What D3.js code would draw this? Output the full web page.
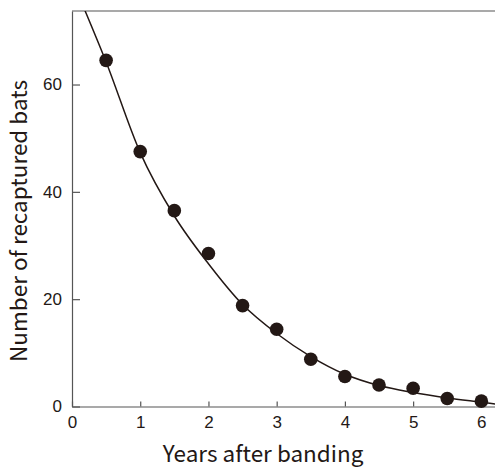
<!DOCTYPE html>
<html>
<head>
<meta charset="utf-8">
<script src="https://cdn.jsdelivr.net/npm/d3@7"></script>
<style>
  html, body { margin: 0; padding: 0; background: #fff; }
  #chart { width: 495px; height: 468px; }
  .tick text { font-family: "Liberation Sans", Arial, sans-serif; font-size: 17px; fill: #231815; }
  .label { font-family: "Noto Sans CJK JP", "Noto Sans", sans-serif; font-size: 22.5px; fill: #231815; }
</style>
</head>
<body>
<div id="chart"></div>
<script>
// observed recaptures (years after banding, count)
const years = [0.5, 1, 1.5, 2, 2.5, 3, 3.5, 4, 4.5, 5, 5.5, 6];
const bats = [64.5, 47.5, 36.5, 28.5, 18.8, 14.4, 8.8, 5.6, 4.0, 3.4, 1.5, 1.0];

// fitted curve
const curveX = [0.15, 0.5, 1, 1.5, 2, 2.5, 3, 3.5, 4, 4.5, 5, 5.5, 6, 6.25];
const curveY = [75.0, 64.2, 47.3, 35.5, 26.6, 19.0, 13.6, 9.3, 6.0, 3.9, 2.6, 1.6, 0.8, 0.4];

const xTicks = [0, 1, 2, 3, 4, 5, 6];
const yTicks = [0, 20, 40, 60];

const width = 495, height = 468;
const margin = { left: 72, top: 11, right: 0, bottom: 61.5 };
const innerW = width - margin.left - margin.right;
const innerH = height - margin.top - margin.bottom;
const ink = "#231815";

const svg = d3.select("#chart").append("svg")
  .attr("width", width).attr("height", height);

const x = d3.scaleLinear().domain([0, 6.2]).range([0, innerW]);
const y = d3.scaleLinear().domain([0, 73.7]).range([innerH, 0]);

const g = svg.append("g").attr("transform", `translate(${margin.left},${margin.top})`);

svg.append("defs").append("clipPath").attr("id", "plot-clip")
  .append("rect").attr("width", innerW).attr("height", innerH);

// axes, ticks point inward
const axisX = g.append("g").attr("transform", `translate(0,${innerH})`)
  .call(d3.axisBottom(x).tickValues(xTicks).tickFormat(d3.format("d"))
    .tickSizeInner(-5).tickSizeOuter(0).tickPadding(9.5));
const axisY = g.append("g")
  .call(d3.axisLeft(y).tickValues(yTicks).tickSizeInner(-8).tickSizeOuter(0).tickPadding(10));

[axisX, axisY].forEach(a => {
  a.select(".domain").attr("stroke", "#555").attr("stroke-width", 1.2);
  a.selectAll(".tick line").attr("stroke", "#555").attr("stroke-width", 1.2);
});

// top frame line
g.append("line")
  .attr("x1", 0).attr("x2", innerW).attr("y1", 0).attr("y2", 0)
  .attr("stroke", "#555").attr("stroke-width", 1.2);

// fitted curve
const line = d3.line()
  .x((d, i) => x(curveX[i]))
  .y(d => y(d))
  .curve(d3.curveMonotoneX);

g.append("path")
  .datum(curveY)
  .attr("clip-path", "url(#plot-clip)")
  .attr("d", line)
  .attr("fill", "none")
  .attr("stroke", ink)
  .attr("stroke-width", 1.5);

// data points
g.selectAll("circle")
  .data(years)
  .join("circle")
  .attr("cx", d => x(d))
  .attr("cy", (d, i) => y(bats[i]))
  .attr("r", 6.8)
  .attr("fill", ink);

// axis titles
svg.append("text")
  .attr("class", "label")
  .attr("x", 263).attr("y", 462)
  .attr("text-anchor", "middle")
  .text("Years after banding");

svg.append("text")
  .attr("class", "label")
  .attr("transform", "translate(27,221) rotate(-90)")
  .attr("text-anchor", "middle")
  .text("Number of recaptured bats");
</script>
</body>
</html>
